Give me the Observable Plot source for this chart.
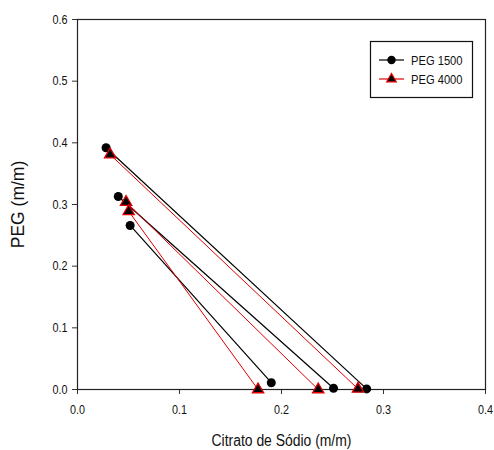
<!DOCTYPE html>
<html>
<head>
<meta charset="utf-8">
<script src="https://cdn.jsdelivr.net/npm/d3@7"></script>
<script src="https://cdn.jsdelivr.net/npm/@observablehq/plot@0.6"></script>
<style>
  html, body { margin: 0; padding: 0; background: white; }
</style>
</head>
<body>
<div id="chart"></div>
<script>
// Tie lines: top phase (low citrate, high PEG) to bottom phase (high citrate, ~0 PEG)
const peg1500TopX = [0.028, 0.040, 0.0516];
const peg1500TopY = [0.392, 0.313, 0.266];
const peg1500BotX = [0.2835, 0.251, 0.190];
const peg1500BotY = [0.001, 0.002, 0.011];

const peg4000TopX = [0.032, 0.0476, 0.0502];
const peg4000TopY = [0.381, 0.304, 0.289];
const peg4000BotX = [0.275, 0.236, 0.177];
const peg4000BotY = [0.001, 0.000, 0.000];

const seriesNames = ["PEG 1500", "PEG 4000"];
const xTicks = [0.0, 0.1, 0.2, 0.3, 0.4];
const yTicks = [0.0, 0.1, 0.2, 0.3, 0.4, 0.5, 0.6];
const xTitle = "Citrato de Sódio (m/m)";
const yTitle = "PEG (m/m)";

function build(name, tx, ty, bx, by) {
  const rows = [];
  tx.forEach((_, i) => {
    rows.push({series: name, tie: name + i, x: tx[i], y: ty[i]});
    rows.push({series: name, tie: name + i, x: bx[i], y: by[i]});
  });
  return rows;
}
const d1500 = build(seriesNames[0], peg1500TopX, peg1500TopY, peg1500BotX, peg1500BotY);
const d4000 = build(seriesNames[1], peg4000TopX, peg4000TopY, peg4000BotX, peg4000BotY);

const font = "'Liberation Sans', Arial, sans-serif";
const fmt = d3.format(".1f");

const chart = Plot.plot({
  width: 494,
  height: 450,
  marginLeft: 77,
  marginRight: 9,
  marginTop: 19,
  marginBottom: 61,
  style: {fontFamily: font, fontSize: "13.5px", color: "#111", background: "white"},
  x: {domain: [0, 0.4]},
  y: {domain: [0, 0.6]},
  marks: [
    Plot.axisX({ticks: xTicks, tickFormat: fmt, tickSize: 5, tickPadding: 10, label: null, fontSize: 13.5, stroke: "#333"}),
    Plot.axisY({ticks: yTicks, tickFormat: fmt, tickSize: 5, tickPadding: 5, label: null, fontSize: 13.5, stroke: "#333"}),
    Plot.frame({stroke: "#222", strokeWidth: 1.2}),
    Plot.line(d1500, {x: "x", y: "y", z: "tie", stroke: "black", strokeWidth: 1.2}),
    Plot.line(d4000, {x: "x", y: "y", z: "tie", stroke: "#e00000", strokeWidth: 1}),
    Plot.dot(d1500, {x: "x", y: "y", r: 4.5, fill: "black", symbol: "circle"}),
    Plot.dot(d4000, {x: "x", y: "y", r: 4.2, fill: "black", stroke: "#e00000", strokeWidth: 1.3, symbol: "triangle"}),
    Plot.text([xTitle], {frameAnchor: "bottom", dy: 51, fontSize: 16, textAnchor: "middle", lineAnchor: "middle", fill: "#111"}),
    Plot.text([yTitle], {frameAnchor: "left", dx: -59, rotate: -90, fontSize: 17.5, textAnchor: "middle", lineAnchor: "middle", fill: "#111"})
  ]
});

// Horizontally condense non-rotated text, like the reference's narrow lettering
function condense(sel, sx) {
  sel.each(function() {
    const t = d3.select(this);
    const xa = t.attr("x");
    if (xa != null && isFinite(+xa)) t.attr("x", +xa / sx);
    const tr = t.attr("transform") || "";
    t.attr("transform", `${tr} scale(${sx},1)`);
  });
}
const svg = d3.select(chart);
condense(svg.selectAll('g[aria-label="x-axis tick label"] text, g[aria-label="y-axis tick label"] text'), 0.8);
condense(svg.selectAll("text").filter(function() { return this.textContent === xTitle; }), 0.87);

// Legend box inside the plot area (top-right)
const lg = svg.append("g").attr("font-family", font).attr("font-size", 13).attr("text-anchor", "start");
lg.append("rect").attr("x", 370.5).attr("y", 41.5).attr("width", 102).attr("height", 56)
  .attr("fill", "white").attr("stroke", "#111").attr("stroke-width", 1.2);
const entries = [
  {name: seriesNames[0], color: "black", sym: d3.symbolCircle},
  {name: seriesNames[1], color: "#e00000", sym: d3.symbolTriangle}
];
entries.forEach((e, i) => {
  const yy = 60 + i * 19;
  lg.append("line").attr("x1", 379).attr("x2", 404).attr("y1", yy).attr("y2", yy)
    .attr("stroke", e.color).attr("stroke-width", 1.2);
  lg.append("path").attr("transform", `translate(391.5,${yy})`)
    .attr("d", d3.symbol(e.sym, i === 0 ? 56 : 40)())
    .attr("fill", "black").attr("stroke", i === 0 ? "none" : e.color).attr("stroke-width", 1.2);
  lg.append("text").attr("transform", `translate(411,${yy}) scale(0.86,1)`).attr("dy", "0.35em")
    .attr("text-anchor", "start").attr("fill", "#111").text(e.name);
});

document.getElementById("chart").appendChild(chart);
</script>
</body>
</html>
